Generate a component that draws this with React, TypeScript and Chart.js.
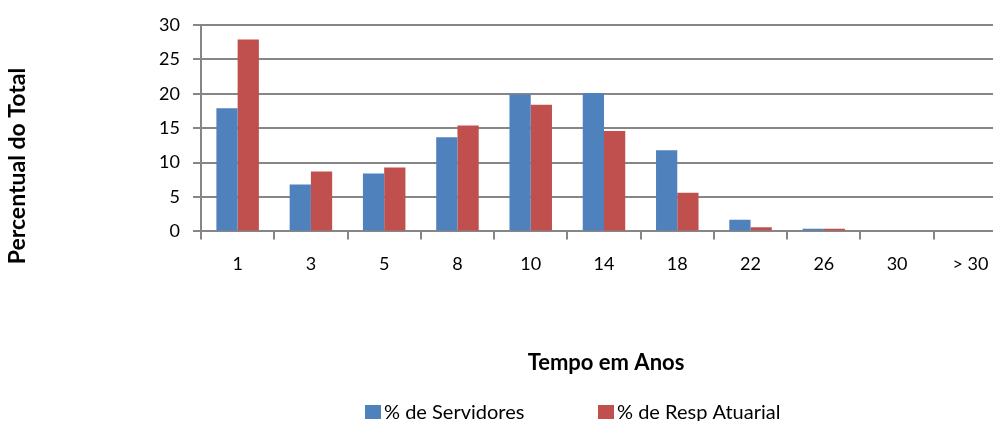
import React, { useEffect, useRef } from "react";
import { Chart, registerables } from "chart.js";

Chart.register(...registerables);

const categories = ["1", "3", "5", "8", "10", "14", "18", "22", "26", "30", "> 30"];
const servidores = [17.9, 6.8, 8.4, 13.7, 19.9, 20.1, 11.8, 1.7, 0.4, 0, 0];
const respAtuarial = [27.9, 8.7, 9.3, 15.4, 18.4, 14.6, 5.6, 0.6, 0.4, 0, 0];
const seriesLabels = ["% de Servidores", "% de Resp Atuarial"];
const seriesColors = ["#4F81BD", "#C0504D"];
const yAxisTitle = "Percentual do Total";
const xAxisTitle = "Tempo em Anos";
const yMax = 30;
const yStep = 5;

const FONT = "Lato, 'Noto Sans', sans-serif";

const titlesAndLegend = {
  id: "titlesAndLegend",
  afterDraw(chart: any) {
    const ctx = chart.ctx;
    ctx.save();
    ctx.fillStyle = "#000";
    // y title
    ctx.save();
    ctx.translate(18, 166);
    ctx.rotate(-Math.PI / 2);
    ctx.font = `bold 23px ${FONT}`;
    ctx.textAlign = "center";
    ctx.textBaseline = "middle";
    ctx.fillText(yAxisTitle, 0, 0);
    ctx.restore();
    // x title
    ctx.font = `bold 22px ${FONT}`;
    ctx.textAlign = "center";
    ctx.textBaseline = "middle";
    ctx.fillText(xAxisTitle, 606, 363);
    // legend
    const xs = [365, 598];
    ctx.font = `20px ${FONT}`;
    ctx.textAlign = "left";
    chart.data.datasets.forEach((ds: any, i: number) => {
      ctx.fillStyle = ds.backgroundColor;
      ctx.fillRect(xs[i], 405, 16, 14);
      ctx.fillStyle = "#000";
      ctx.fillText(ds.label, xs[i] + 19, 413);
    });
    ctx.restore();
  },
};

export default function App() {
  const ref = useRef<HTMLCanvasElement>(null);
  useEffect(() => {
    if (!ref.current) return;
    const chart = new Chart(ref.current, {
      type: "bar",
      data: {
        labels: categories,
        datasets: [
          { label: seriesLabels[0], data: servidores, backgroundColor: seriesColors[0] },
          { label: seriesLabels[1], data: respAtuarial, backgroundColor: seriesColors[1] },
        ],
      },
      options: {
        responsive: false,
        animation: false,
        events: [],
        categoryPercentage: 0.58,
        barPercentage: 1.0,
        layout: { padding: { left: 149, right: 5, top: 25, bottom: 132 } },
        plugins: { legend: { display: false }, tooltip: { enabled: false }, title: { display: false } },
        scales: {
          x: {
            grid: { drawOnChartArea: false, drawTicks: true, tickLength: 8, color: "#868686", lineWidth: 2, offset: true },
            border: { display: true, color: "#868686", width: 2 },
            ticks: { color: "#000", font: { family: FONT, size: 18 }, padding: 14, maxRotation: 0, autoSkip: false },
          },
          y: {
            min: 0,
            max: yMax,
            afterFit: (s: any) => { s.width = 52; },
            grid: { color: "#868686", lineWidth: 2, tickLength: 8, drawTicks: true },
            border: { display: true, color: "#868686", width: 2 },
            ticks: { stepSize: yStep, color: "#000", font: { family: FONT, size: 18 }, padding: 13 },
          },
        },
      },
      plugins: [titlesAndLegend],
    } as any);
    return () => chart.destroy();
  }, []);
  return (
    <div style={{ position: "fixed", left: 0, top: 0, width: 1012, height: 421, background: "#fff" }}>
      <canvas ref={ref} width={1012} height={421} />
    </div>
  );
}
